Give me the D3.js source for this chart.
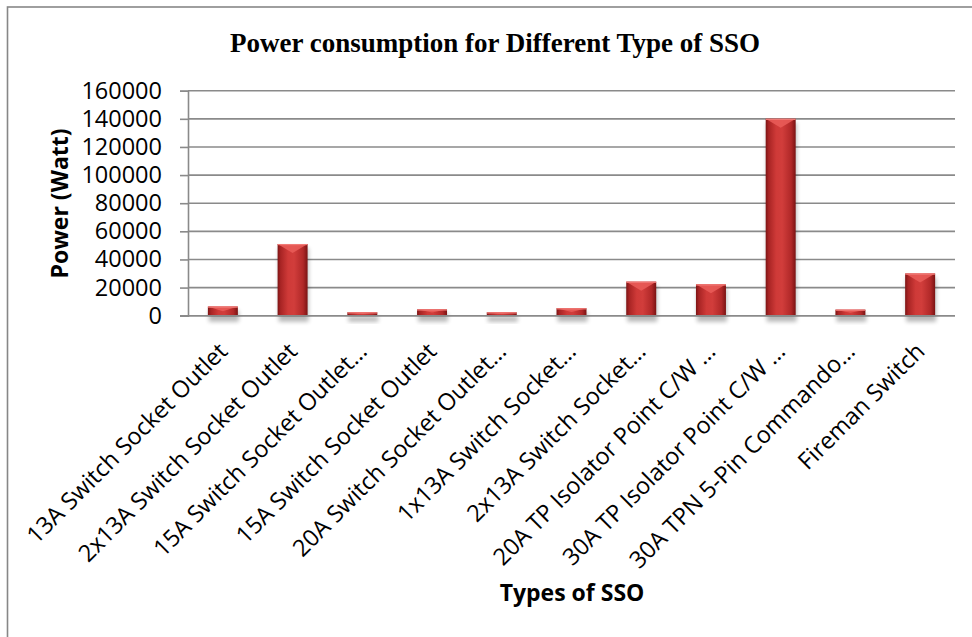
<!DOCTYPE html>
<html>
<head>
<meta charset="utf-8">
<script src="https://cdn.jsdelivr.net/npm/d3@7"></script>
<style>
  html, body { margin: 0; padding: 0; background: #fff; }
  svg { display: block; }
</style>
</head>
<body>
<svg id="chart" width="972" height="637"></svg>
<script>
// Power draw per switch-socket-outlet type
const categories = [
  "13A Switch Socket Outlet",
  "2x13A Switch Socket Outlet",
  "15A Switch Socket Outlet…",
  "15A Switch Socket Outlet",
  "20A Switch Socket Outlet…",
  "1x13A Switch Socket…",
  "2x13A Switch Socket…",
  "20A TP Isolator Point C/W …",
  "30A TP Isolator Point C/W …",
  "30A TPN 5-Pin Commando…",
  "Fireman Switch"
];
const powerWatt = [6500, 51000, 2400, 4500, 2400, 5300, 24200, 22300, 140000, 4300, 30000];
const yTicks = [0, 20000, 40000, 60000, 80000, 100000, 120000, 140000, 160000];

const chartTitle = "Power consumption for Different Type of SSO";
const yTitle = "Power (Watt)";
const xTitle = "Types of SSO";

const svg = d3.select("#chart");
const W = 972, H = 637;
const plot = { left: 188, right: 955, top: 90.7, bottom: 315.7 };

const sansFont = "'Open Sans', 'DejaVu Sans', sans-serif";
const gridColor = "#8a8a8a";

// outer chart frame
svg.append("rect")
  .attr("x", 7.5).attr("y", 7)
  .attr("width", W + 20).attr("height", H + 20)
  .attr("fill", "#fff")
  .attr("stroke", "#878787").attr("stroke-width", 1.6);

const defs = svg.append("defs");

// horizontal shading to give the bars a rounded, bevelled look
const grad = defs.append("linearGradient").attr("id", "barGrad")
  .attr("x1", "0%").attr("x2", "100%").attr("y1", "0%").attr("y2", "0%");
[["0%", "#7d1414"], ["10%", "#a82424"], ["35%", "#cf3a38"], ["55%", "#d13d3b"], ["85%", "#b02828"], ["100%", "#7a1313"]]
  .forEach(([o, c]) => grad.append("stop").attr("offset", o).attr("stop-color", c));

const shadow = defs.append("filter").attr("id", "barShadow")
  .attr("x", "-30%").attr("y", "-30%").attr("width", "160%").attr("height", "160%");
shadow.append("feGaussianBlur").attr("stdDeviation", 2.2);

const x = d3.scaleBand()
  .domain(categories)
  .range([plot.left, plot.right])
  .paddingInner(0.57)
  .paddingOuter(0.285);

const y = d3.scaleLinear()
  .domain([0, 160000])
  .range([plot.bottom, plot.top]);

// horizontal gridlines with the y axis
const yAxis = d3.axisLeft(y).tickValues(yTicks).tickSize(8).tickFormat(d3.format("d"));
const yG = svg.append("g").attr("transform", `translate(${plot.left},0)`).call(yAxis);
yG.select(".domain").attr("stroke", gridColor).attr("stroke-width", 1.6);
yG.selectAll(".tick line").attr("stroke", gridColor).attr("stroke-width", 1.6);
yG.selectAll(".tick text")
  .attr("x", -26)
  .attr("font-family", sansFont).attr("font-size", 23.5).attr("fill", "#000");

svg.append("g").selectAll("line")
  .data(yTicks)
  .join("line")
  .attr("x1", plot.left).attr("x2", plot.right)
  .attr("y1", d => y(d)).attr("y2", d => y(d))
  .attr("stroke", gridColor).attr("stroke-width", 1.6);

// bars
const bars = svg.append("g");
const data = categories.map((c, i) => ({ c, v: powerWatt[i] }));

bars.selectAll("rect.shadow")
  .data(data)
  .join("rect")
  .attr("class", "shadow")
  .attr("x", d => x(d.c) + 1)
  .attr("y", d => y(d.v) + 4)
  .attr("width", x.bandwidth())
  .attr("height", d => y(0) - y(d.v) + 2)
  .attr("fill", "#000").attr("opacity", 0.28)
  .attr("filter", "url(#barShadow)");

bars.selectAll("rect.bar")
  .data(data)
  .join("rect")
  .attr("class", "bar")
  .attr("x", d => x(d.c))
  .attr("y", d => y(d.v))
  .attr("width", x.bandwidth())
  .attr("height", d => y(0) - y(d.v))
  .attr("fill", "url(#barGrad)");

// bevelled top face
bars.selectAll("path.bevel")
  .data(data)
  .join("path")
  .attr("class", "bevel")
  .attr("d", d => {
    const x0 = x(d.c), x1 = x0 + x.bandwidth(), xc = (x0 + x1) / 2;
    const t = y(d.v), h = y(0) - t;
    const b = Math.min(9, h * 0.5);
    return `M${x0},${t}L${x1},${t}L${xc},${t + b}Z`;
  })
  .attr("fill", "#e85b58").attr("opacity", 0.9);

bars.selectAll("path.bevelEdge")
  .data(data)
  .join("path")
  .attr("class", "bevelEdge")
  .attr("d", d => {
    const x0 = x(d.c), x1 = x0 + x.bandwidth();
    const t = y(d.v);
    return `M${x0},${t + 0.6}L${x1},${t + 0.6}`;
  })
  .attr("stroke", "#f07a76").attr("stroke-width", 1.2);

// baseline redrawn over bar feet
svg.append("line")
  .attr("x1", plot.left - 8).attr("x2", plot.right)
  .attr("y1", y(0)).attr("y2", y(0))
  .attr("stroke", gridColor).attr("stroke-width", 1.6);

// rotated category labels
svg.append("g").selectAll("text")
  .data(categories)
  .join("text")
  .attr("transform", d => `translate(${x(d) + x.bandwidth() / 2 + 6},${y(0) + 37}) rotate(-45)`)
  .attr("text-anchor", "end")
  .attr("font-family", sansFont).attr("font-size", 23.5).attr("fill", "#000")
  .text(d => d);

// titles
svg.append("text")
  .attr("x", 495).attr("y", 52)
  .attr("text-anchor", "middle")
  .attr("font-family", "'Liberation Serif', 'Times New Roman', serif")
  .attr("font-weight", "bold").attr("font-size", 27).attr("fill", "#000")
  .text(chartTitle);

svg.append("text")
  .attr("transform", `translate(68,203.5) rotate(-90)`)
  .attr("text-anchor", "middle")
  .attr("font-family", sansFont).attr("font-weight", "bold").attr("font-size", 23).attr("fill", "#000")
  .text(yTitle);

svg.append("text")
  .attr("x", 572).attr("y", 601)
  .attr("text-anchor", "middle")
  .attr("font-family", sansFont).attr("font-weight", "bold").attr("font-size", 23).attr("fill", "#000")
  .text(xTitle);
</script>
</body>
</html>
